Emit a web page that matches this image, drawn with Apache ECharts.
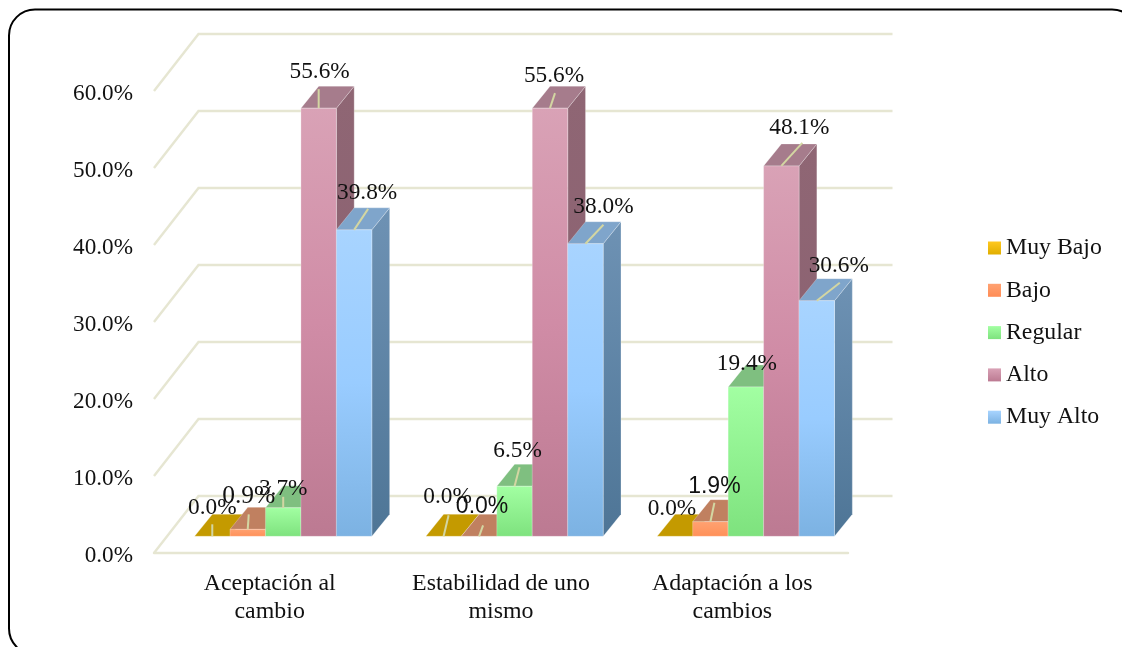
<!DOCTYPE html>
<html><head><meta charset="utf-8">
<style>html,body{margin:0;padding:0;background:#fff}#c{width:1122px;height:647px}</style>
<script src="https://cdn.jsdelivr.net/npm/echarts@6/dist/echarts.min.js"></script>
</head><body><div id="c"></div>
<script>
const categories = ['Aceptación al\ncambio', 'Estabilidad de uno\nmismo', 'Adaptación a los\ncambios'];
const muyBajo = [0.0, 0.0, 0.0];
const bajo    = [0.9, 0.0, 1.9];
const regular = [3.7, 6.5, 19.4];
const alto    = [55.6, 55.6, 48.1];
const muyAlto = [39.8, 38.0, 30.6];
const seriesNames = ['Muy Bajo', 'Bajo', 'Regular', 'Alto', 'Muy Alto'];
const seriesValues = [muyBajo, bajo, regular, alto, muyAlto];
const yTicks = [0, 10, 20, 30, 40, 50, 60];

const FONT = '"Liberation Serif"';
const SANS = '"Liberation Sans"';
const LG = (a, b, c) => new echarts.graphic.LinearGradient(0, 0, 0, 1,
  c ? [{offset:0,color:a},{offset:.5,color:b},{offset:1,color:c}] : [{offset:0,color:a},{offset:1,color:b}]);

const palette = [
  {front:LG('#FFC820','#E0AE00'), top:'#C49A00', side:'#9A7A00', legend:LG('#FFC820','#E0AE00')},
  {front:LG('#FFA272','#FF9058'), top:'#C08060', side:'#A06A4E', legend:LG('#FFA272','#FF8C55')},
  {front:LG('#A2FFA2','#7EE27E'), top:'#7FBF80', side:'#66A066', legend:LG('#A2FFA2','#7EE27E')},
  {front:LG('#D9A2B6','#D08CA6','#BC7A92'), top:'#A67C8C', side:LG('#8F6674','#8A6070'), legend:LG('#D9A2B6','#BC7A92')},
  {front:LG('#A8D4FF','#99CCFF','#7CB2E2'), top:'#7FA5CB', side:LG('#6E92B4','#4E7596'), legend:LG('#A8D4FF','#7CB2E2')}
];

// label offsets from the bar's front-top centre: [series][category] -> [dx, dy]
const labelShift = [
  [[0,-28],[4,-39],[-3,-27]],
  [[1,-33],[3,-30],[4,-35]],
  [[0,-19],[3,-35],[1,-23]],
  [[1,-36],[4,-32],[18,-38]],
  [[13,-37],[18,-37],[22,-35]]
];
// leader line ends from the same point; null = no line visible
const leaderShift = [
  [[0,-12],[5,-21],null],
  [[1,-15],[4,-11],[4,-19]],
  [[0,-11],[5,-19],null],
  [[0,-19],[5,-15],[21,-23]],
  [[14,-21],[18,-19],[23,-18]]
];
const labelFamily = [
  [FONT,FONT,FONT],[FONT,SANS,SANS],[FONT,FONT,FONT],[FONT,FONT,FONT],[FONT,FONT,FONT]
];
const labelSize = [
  [23.3,23.3,23.3],[25.5,23,23],[23.3,23.3,23.3],[23.3,23.3,23.3],[23.3,23.3,23.3]
];

// 3D projection, as fractions of the category band / value step
const BAR_FRAC = 0.1533, GROUP_SHIFT = 0.0585, FLOOR_Y = -16.7;
const DEPTH_X = 17.8, DEPTH_Y = -22;
const WALL_X = 44.5, WALL_Y = -57;

function barGeom(api, s) {
  const cat = api.value(0), v = api.value(1);
  const band = api.size([1, 0])[0];
  const c = api.coord([cat, 0]);
  const bw = band * BAR_FRAC;
  const x0 = c[0] + band * GROUP_SHIFT - 2.5 * bw + s * bw;
  const yb = c[1] + FLOOR_Y;
  const yt = api.coord([cat, v])[1] + FLOOR_Y;
  return {x0, bw, yb, yt, cat, v};
}

function wallItem(params, api) {
  const v = api.value(0), cs = params.coordSys;
  const y = api.coord([0, v])[1], xl = cs.x, xr = cs.x + cs.width;
  return {type:'polyline', shape:{points:[[xl,y],[xl+WALL_X,y+WALL_Y],[xr+WALL_X,y+WALL_Y]]},
    style:{stroke:'#E6E6D2', lineWidth:2.4, fill:null}};
}

function barItem(s) {
  return function(params, api) {
    const g = barGeom(api, s), p = palette[s], dx = DEPTH_X, dy = DEPTH_Y;
    const edge = 'rgba(255,255,255,0.25)';
    const kids = [];
    if (g.v > 0) {
      kids.push({type:'polygon', shape:{points:[[g.x0+g.bw,g.yt],[g.x0+g.bw+dx,g.yt+dy],[g.x0+g.bw+dx,g.yb+dy],[g.x0+g.bw,g.yb]]},
        style:{fill:p.side, stroke:edge, lineWidth:1}});
    }
    kids.push({type:'polygon', shape:{points:[[g.x0,g.yt],[g.x0+dx,g.yt+dy],[g.x0+g.bw+dx,g.yt+dy],[g.x0+g.bw,g.yt]]},
      style:{fill:p.top, stroke:edge, lineWidth:1}});
    if (g.v > 0) {
      kids.push({type:'rect', shape:{x:g.x0, y:g.yt, width:g.bw, height:g.yb-g.yt},
        style:{fill:p.front, stroke:edge, lineWidth:1}});
    }
    return {type:'group', children:kids};
  };
}

function labelItem(s) {
  return function(params, api) {
    const g = barGeom(api, s), cx = g.x0 + g.bw/2;
    const ls = labelShift[s][g.cat], ld = leaderShift[s][g.cat];
    const kids = [];
    if (ld) kids.push({type:'line', shape:{x1:cx, y1:g.yt, x2:cx+ld[0], y2:g.yt+ld[1]},
      style:{stroke:'#D3D6A2', lineWidth:2}});
    kids.push({type:'text', x:cx+ls[0], y:g.yt+ls[1], style:{
      text:g.v.toFixed(1)+'%', align:'center', verticalAlign:'middle',
      font:labelSize[s][g.cat]+'px '+labelFamily[s][g.cat], fill:'#111'}});
    return {type:'group', children:kids};
  };
}

const series = [{
  name:'wall', type:'custom', z:1, silent:true, renderItem:wallItem,
  data:yTicks.slice(1).concat([0]).map(v => [v]), encode:{y:0}
}];
seriesNames.forEach((n, s) => series.push({
  name:n, type:'custom', z:2, silent:true, renderItem:barItem(s),
  itemStyle:{color:palette[s].legend},
  data:seriesValues[s].map((v, i) => [i, v]), encode:{x:0, y:1}
}));
seriesNames.forEach((n, s) => series.push({
  name:n+' labels', type:'custom', z:3, silent:true, renderItem:labelItem(s),
  data:seriesValues[s].map((v, i) => [i, v]), encode:{x:0, y:1}
}));

const chart = echarts.init(document.getElementById('c'), null, {renderer:'canvas'});
chart.setOption({
  animation:false,
  backgroundColor:'#fff',
  grid:{left:154, top:91, width:694, height:462},
  graphic:[{type:'rect', z:0, silent:true, shape:{x:9, y:9.5, width:1129, height:645, r:26},
    style:{fill:'none', stroke:'#000', lineWidth:2}}],
  legend:{
    data:seriesNames, orient:'vertical', left:988, top:235, padding:0, itemWidth:13, itemHeight:13, itemGap:16.3,
    selectedMode:false, icon:'rect',
    textStyle:{fontFamily:FONT, fontSize:23.8, color:'#111', lineHeight:26}
  },
  xAxis:{type:'category', data:categories, axisTick:{show:false},
    axisLine:{lineStyle:{color:'#E6E6D2', width:2.4}},
    axisLabel:{fontFamily:FONT, fontSize:23.9, color:'#111', lineHeight:28, margin:17, interval:0}},
  yAxis:{type:'value', min:0, max:60, interval:10, axisLine:{show:false}, axisTick:{show:false}, splitLine:{show:false},
    axisLabel:{margin:21, formatter:v => '{t|'+v.toFixed(1)+'%}',
      rich:{t:{fontFamily:FONT, fontSize:23.2, color:'#111', padding:[5,0,0,0]}}}},
  series
});
</script></body></html>
